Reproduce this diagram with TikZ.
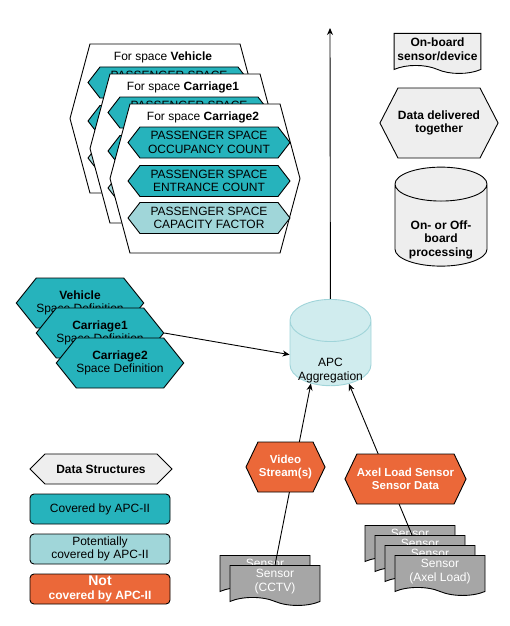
\documentclass[tikz,border=0pt]{standalone}
\usepackage{fontspec}
\setmainfont{Liberation Sans}
\usepackage{xcolor}
\usepackage{tikz}
\usetikzlibrary{shapes.symbols,shapes.geometric,arrows.meta}
\definecolor{apcteal}{RGB}{38,179,188}
\definecolor{apclight}{RGB}{160,214,217}
\definecolor{apcorange}{RGB}{235,104,57}
\definecolor{sensorgray}{RGB}{166,166,166}
\definecolor{keygray}{RGB}{238,238,238}
\definecolor{aggfill}{RGB}{208,236,238}
\definecolor{aggline}{RGB}{160,212,217}

\begin{document}
\begin{tikzpicture}[x=1pt, y=-1pt, line width=0.9pt, >={Stealth[length=7pt,width=6pt]},
  every node/.style={font=\fontsize{12}{13.5}\selectfont, align=center},
  hexa/.style={signal, signal to=east and west, draw, inner sep=0pt},
  spacehex/.style={hexa, fill=white, minimum width=190pt, minimum height=149pt, signal pointer angle=150},
  fieldhex/.style={hexa, fill=apcteal, minimum width=162pt, minimum height=31pt, signal pointer angle=104.5},
  defhex/.style={hexa, fill=apcteal, minimum width=120pt, minimum height=50pt, signal pointer angle=102.7},
  datahex/.style={hexa, fill=apcorange, text=white, font=\fontsize{11.5}{13.3}\selectfont\bfseries, minimum height=50pt, signal pointer angle=128.8},
  doc/.style={tape, tape bend top=none, tape bend bottom=out and in, tape bend height=8pt, draw, fill=sensorgray, text=white, minimum width=90pt, minimum height=40pt, anchor=north},
  keybox/.style={draw, rounded corners=4pt, minimum width=140pt, minimum height=30pt, inner sep=0pt},
  bold/.style={font=\fontsize{12}{13.5}\selectfont\bfseries}]
  \useasboundingbox (0,0) rectangle (509,626);

  % data structures per space
  \node [spacehex] (vehspace) at (165,118.5) {};
  \node (vehtitle) at (163,57) {For space \textbf{Vehicle}};
  \node [fieldhex] (vehocc) at (169,82.5) {PASSENGER SPACE\\OCCUPANCY COUNT};
  \node [fieldhex] (vehent) at (169,121) {PASSENGER SPACE\\ENTRANCE COUNT};
  \node [fieldhex, fill=apclight] (vehcap) at (169,158) {PASSENGER SPACE\\CAPACITY FACTOR};

  \node [spacehex] (car1space) at (185,148.5) {};
  \node (car1title) at (183,87) {For space \textbf{Carriage1}};
  \node [fieldhex] (car1occ) at (189,112.5) {PASSENGER SPACE\\OCCUPANCY COUNT};
  \node [fieldhex] (car1ent) at (189,151) {PASSENGER SPACE\\ENTRANCE COUNT};
  \node [fieldhex, fill=apclight] (car1cap) at (189,188) {PASSENGER SPACE\\CAPACITY FACTOR};

  \node [spacehex] (car2space) at (205,178.5) {};
  \node (car2title) at (203,117) {For space \textbf{Carriage2}};
  \node [fieldhex] (car2occ) at (209,142.5) {PASSENGER SPACE\\OCCUPANCY COUNT};
  \node [fieldhex] (car2ent) at (209,181) {PASSENGER SPACE\\ENTRANCE COUNT};
  \node [fieldhex, fill=apclight] (car2cap) at (209,218) {PASSENGER SPACE\\CAPACITY FACTOR};

  % space definitions
  \node [defhex] (vehdef) at (80,303) {\textbf{Vehicle}\\Space Definition};
  \node [defhex] (car1def) at (100,333) {\textbf{Carriage1}\\Space Definition};
  \node [defhex] (car2def) at (120,363) {\textbf{Carriage2}\\Space Definition};

  % aggregation
  \node [cylinder, shape border rotate=90, aspect=0.59, draw=aggline, fill=aggfill, minimum width=81pt, minimum height=79pt,
    label={[yshift=-13pt, align=center]center:APC\\Aggregation}] (apc) at (330.5,357.5) {\phantom{APC}\\\phantom{Aggregation}};
  \coordinate (exit) at (330,28);
  \draw [->] (apc) -- (exit);
  \draw [->] (car1def.east) -- (apc.176);

  % sensors
  \node [doc] (cctvA) at (265,555) {Sensor\\(CCTV)};
  \draw [->] ([xshift=10pt,yshift=-10pt]cctvA.north) -- (apc.233);
  \node [doc] (cctvB) at (275,565) {Sensor\\(CCTV)};
  \node [doc] (axleA) at (410,525) {Sensor\\(Axel Load)};
  \draw [->] ([xshift=2pt,yshift=-10pt]axleA.north) -- (apc.305);
  \node [doc] (axleB) at (420,535) {Sensor\\(Axel Load)};
  \node [doc] (axleC) at (430,545) {Sensor\\(Axel Load)};
  \node [doc] (axleD) at (440,555) {Sensor\\(Axel Load)};
  \node [datahex, minimum width=79pt] (video) at (285.5,467) {Video\\Stream(s)};
  \node [datahex, minimum width=120pt] (axle) at (405.5,479) {Axel Load Sensor\\Sensor Data};

  % legend
  \node [doc, fill=keygray, text=black, bold, minimum width=85pt] (keydoc) at (437.5,33) {On-board\\sensor/device};
  \node [hexa, fill=keygray, bold, minimum width=88pt, minimum height=70pt, signal pointer angle=125.5] (keyhex) at (439,123) {Data delivered\\together};
  \node [cylinder, shape border rotate=90, aspect=0.48, draw, fill=keygray, bold, minimum width=92pt, minimum height=99pt,
    label={[yshift=-11pt, align=center, bold]center:On- or Off-\\board\\processing}] (keycyl) at (441,228.5) {\phantom{On- or Off-}\\\phantom{board}\\\phantom{processing}};
  \node [hexa, fill=keygray, bold, minimum width=142pt, minimum height=30pt, signal pointer angle=90] (keystruct) at (101,469) {Data Structures};
  \node [keybox, fill=apcteal] (keycov) at (100,509) {Covered by APC-II};
  \node [keybox, fill=apclight] (keypot) at (100,549) {Potentially\\covered by APC-II};
  \node [keybox, fill=apcorange, text=white, bold] (keynot) at (100,589) {{\fontsize{14}{15}\selectfont Not}\\covered by APC-II};
\end{tikzpicture}
\end{document}
